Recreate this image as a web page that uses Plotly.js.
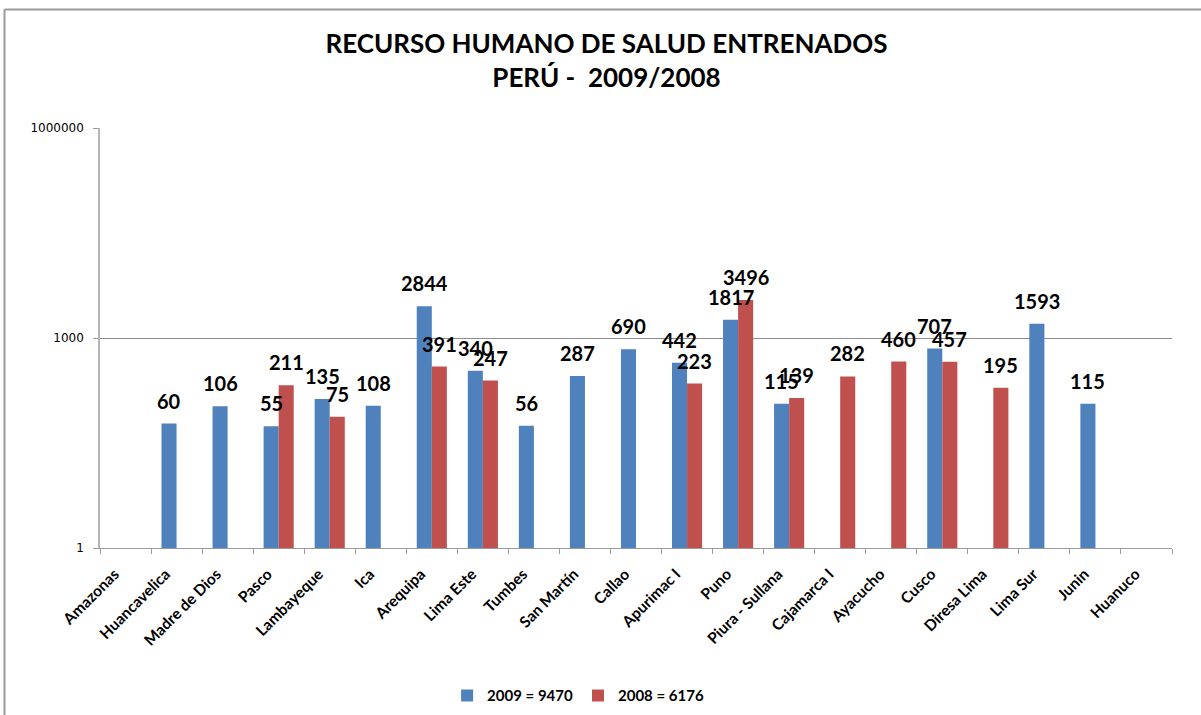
<!DOCTYPE html>
<html>
<head>
<meta charset="utf-8">
<script src="https://cdn.plot.ly/plotly-3.0.1.min.js"></script>
<style>html,body{margin:0;padding:0;background:#fff;}#chart{width:1201px;height:715px;}</style>
</head>
<body>
<div id="chart"></div>
<script>
const categories = ["Amazonas","Huancavelica","Madre de Dios","Pasco","Lambayeque","Ica","Arequipa","Lima Este","Tumbes","San Martín","Callao","Apurimac I","Puno","Piura - Sullana","Cajamarca I","Ayacucho","Cusco","Diresa Lima","Lima Sur","Junin","Huanuco"];
const values2009 = [null,60,106,55,135,108,2844,340,56,287,690,442,1817,115,null,null,707,null,1593,115,null];
const values2008 = [null,null,null,211,75,null,391,247,null,null,null,223,3496,139,282,460,457,195,null,null,null];
const seriesNames = ["2009 = 9470","2008 = 6176"];
const yTickVals = [1,1000,1000000];
const yTickText = ["1","1000","1000000"];

const BLUE = "#4F81BD", RED = "#C0504D";
const labelFont = {family:"Lato, 'Open Sans', sans-serif", size:20, color:"#000", weight:"bold"};

const traces = [
  {type:"bar", name:seriesNames[0], x:categories, y:values2009, marker:{color:BLUE}, hoverinfo:"x+y"},
  {type:"bar", name:seriesNames[1], x:categories, y:values2008, marker:{color:RED}, hoverinfo:"x+y"}
];

const annotations = [];
function addLabels(vals, shift){
  vals.forEach((v,i)=>{
    if(v===null) return;
    annotations.push({x:categories[i], y:Math.log10(v), xref:"x", yref:"y", text:"<b>"+v+"</b>",
      showarrow:false, xanchor:"center", yanchor:"bottom", xshift:shift, yshift:9, font:labelFont});
  });
}
addLabels(values2009, -7.6);
addLabels(values2008, 7.6);

const layout = {
  width:1201, height:715,
  margin:{l:100, r:29, t:128, b:167, autoexpand:false},
  paper_bgcolor:"#fff", plot_bgcolor:"#fff",
  title:{text:"<b>RECURSO HUMANO DE SALUD ENTRENADOS<br>PERÚ - \u00a02009/2008</b>",
    x:0.505, xref:"container", xanchor:"center", y:0.926, yref:"container", yanchor:"top",
    font:{family:"Lato, sans-serif", size:26, color:"#000"}},
  barmode:"group", bargap:0.41, bargroupgap:0,
  showlegend:true,
  legend:{orientation:"h", x:0.446, xanchor:"center", y:-0.352, yanchor:"middle",
    font:{family:"Lato, sans-serif", size:15, color:"#000", weight:"bold"}, traceorder:"normal"},
  xaxis:{type:"category", automargin:false, tickangle:-45, ticklabelstandoff:10, ticklabelshift:-11,
    tickfont:{family:"Lato, sans-serif", size:15.5, color:"#000", weight:"bold"},
    showline:true, linecolor:"#9a9a9a", linewidth:1, ticks:"outside", tickson:"boundaries", ticklen:5, tickcolor:"#9a9a9a",
    showgrid:false, fixedrange:true},
  yaxis:{type:"log", automargin:false, range:[0,6], tickvals:yTickVals, ticktext:yTickText, ticklabelstandoff:7,
    tickfont:{family:"'DejaVu Sans', sans-serif", size:12, color:"#000"},
    showline:true, linecolor:"#b5b5b5", linewidth:1.5, ticks:"outside", ticklen:5, tickcolor:"#9a9a9a",
    showgrid:true, gridcolor:"#8c8c8c", gridwidth:1, zeroline:false, fixedrange:true},
  annotations:annotations,
  shapes:[
    {type:"line", xref:"paper", yref:"paper", x0:(4.5-100)/1072, x1:(1205-100)/1072, y0:(548-9.5)/420, y1:(548-9.5)/420, line:{color:"#9a9a9a", width:2}},
    {type:"line", xref:"paper", yref:"paper", x0:(4.5-100)/1072, x1:(4.5-100)/1072, y0:(548-9.5)/420, y1:(548-720)/420, line:{color:"#9a9a9a", width:2}}
  ]
};

Plotly.newPlot("chart", traces, layout, {displayModeBar:false, staticPlot:false});
</script>
</body>
</html>
